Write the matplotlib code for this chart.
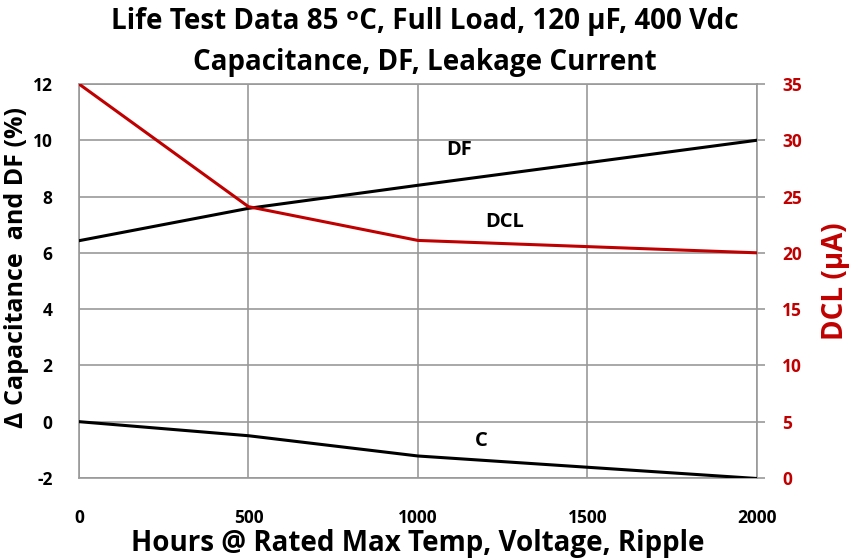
import numpy as np
from matplotlib import pyplot as plt

# data
hours = [0, 500, 1000, 1500, 2000]
df = [6.43, 7.58, 8.4, 9.2, 10.0]          # DF (%)
cap = [0.0, -0.5, -1.22, -1.62, -2.02]     # delta capacitance (%)
dcl = [35.0, 24.1, 21.1, 20.55, 20.0]      # leakage current (uA)

left_ticks = [-2, 0, 2, 4, 6, 8, 10, 12]
right_ticks = [0, 5, 10, 15, 20, 25, 30, 35]
x_ticks = [0, 500, 1000, 1500, 2000]

red = "#C00000"
grid = "#999999"
plt.rcParams['font.family'] = ['Open Sans', 'DejaVu Sans']
plt.rcParams['axes.unicode_minus'] = False

fig = plt.figure(figsize=(8.49, 5.59), dpi=100)
ax = fig.add_axes([0.093, 0.145, 0.7986, 0.7048])

ax.plot(hours, df, color="black", lw=2.2, zorder=3)
ax.plot(hours, cap, color="black", lw=2.2, zorder=3)
ax.set_xlim(0, 2000)
ax.set_ylim(-2, 12)
ax.set_xticks(x_ticks)
ax.set_yticks(left_ticks)
ax.grid(True, color=grid, lw=1.2)
ax.set_axisbelow(True)
ax.tick_params(axis="both", length=0, labelsize=12.5)
ax.tick_params(axis="x", pad=22)
ax.tick_params(axis="y", pad=19)
for lab in ax.get_xticklabels() + ax.get_yticklabels():
    lab.set_fontweight("bold")
for s in ax.spines.values():
    s.set_color(grid)
    s.set_linewidth(1.2)

ax2 = ax.twinx()
ax2.plot(hours, dcl, color=red, lw=2.2, zorder=3)
ax2.set_ylim(0, 35)
ax2.set_yticks(right_ticks)
ax2.tick_params(axis="y", length=6, color=grid, width=1.2, labelsize=12.5,
                labelcolor=red, pad=12)
for lab in ax2.get_yticklabels():
    lab.set_fontweight("bold")
for s in ax2.spines.values():
    s.set_visible(False)

# series labels
ax.text(1120, 9.65, "DF", fontsize=14.5, fontweight="bold", ha="center", va="center")
ax.text(1257, 7.1, "DCL", fontsize=14.5, fontweight="bold", ha="center", va="center")
ax.text(1186, -0.69, "C", fontsize=14.5, fontweight="bold", ha="center", va="center")

ax.set_xlabel("Hours @ Rated Max Temp, Voltage, Ripple", fontsize=20,
              fontweight="bold", labelpad=2)
ax.set_ylabel("\u0394 Capacitance  and DF (%)", fontsize=18, fontweight="bold")
ax.yaxis.set_label_coords(-0.074, 0.535)
ax2.set_ylabel("DCL (\u00b5A)", fontsize=20, fontweight="bold", color=red,
               labelpad=14)

fig.text(0.5, 0.962, "Life Test Data 85 \u1d52C, Full Load, 120 \u00b5F, 400 Vdc",
         ha="center", va="center", fontsize=20, fontweight="bold")
fig.text(0.5, 0.888, "Capacitance, DF, Leakage Current",
         ha="center", va="center", fontsize=20, fontweight="bold")

fig.savefig("out.png", dpi=100)
